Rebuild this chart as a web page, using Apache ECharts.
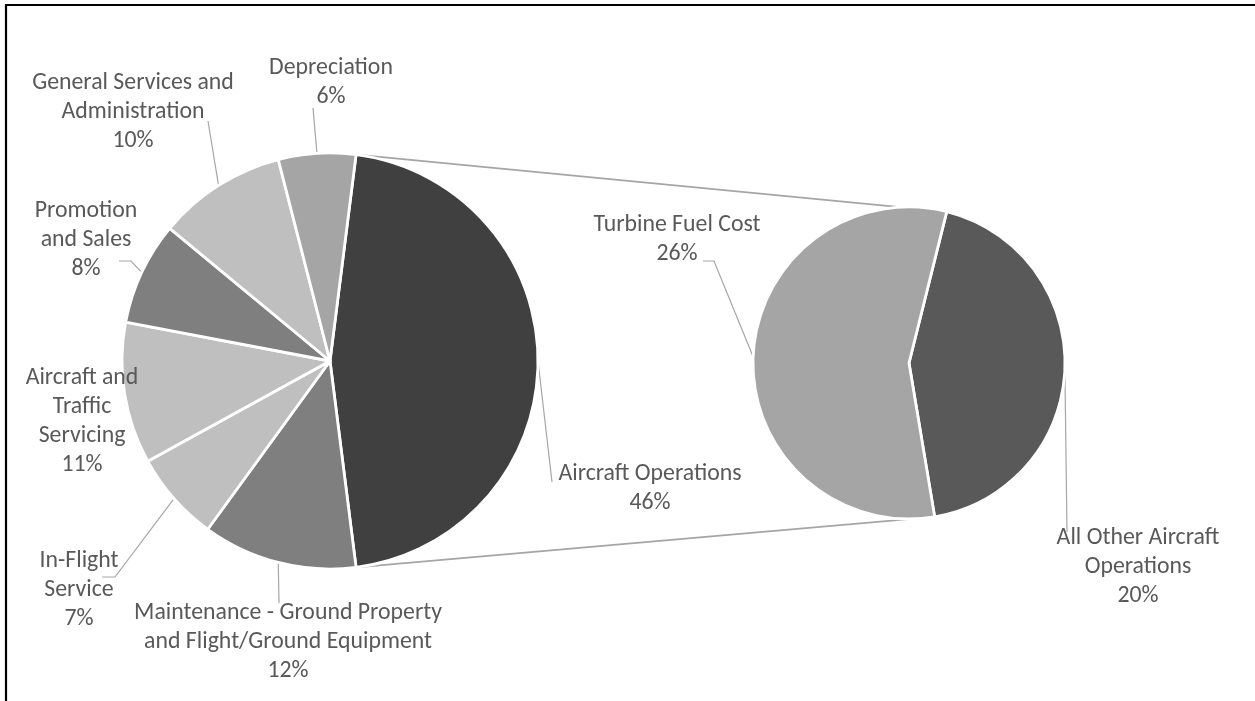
<!DOCTYPE html>
<html>
<head>
<meta charset="utf-8">
<title>Operating Expenses Breakdown</title>
<script src="https://cdn.jsdelivr.net/npm/echarts@6/dist/echarts.min.js"></script>
<style>
  html, body { margin: 0; padding: 0; background: #ffffff; }
  #chart { width: 1255px; height: 701px; }
</style>
</head>
<body>
<div id="chart"></div>
<script>
// Main pie: share of total operating expenses (%)
const mainCategories = [
  'Aircraft Operations',
  'Maintenance - Ground Property\nand Flight/Ground Equipment',
  'In-Flight\nService',
  'Aircraft and\nTraffic\nServicing',
  'Promotion\nand Sales',
  'General Services and\nAdministration',
  'Depreciation'
];
const mainValues = [46, 12, 7, 11, 8, 10, 6];
const mainColors = ['#404040', '#7f7f7f', '#bfbfbf', '#bfbfbf', '#7f7f7f', '#bfbfbf', '#a5a5a5'];

// Secondary pie: split of Aircraft Operations (% of total)
const detailCategories = ['All Other Aircraft\nOperations', 'Turbine Fuel Cost'];
const detailValues = [20, 26];
const detailColors = ['#595959', '#a5a5a5'];

// Pie geometry (pixels)
const MAIN = { cx: 330, cy: 361, r: 208 };
const DETAIL = { cx: 909, cy: 363, r: 156 };

const sum = a => a.reduce((s, v) => s + v, 0);
// first main slice is centred on 3 o'clock
const mainStart = mainValues[0] / sum(mainValues) * 180;
const detailStart = 76;

// Label placement (centre of text block) and leader-line bend/end points
const mainLabelPos = [
  { x: 650, y: 489, leader: [[552, 482]] },
  { x: 288, y: 642, leader: [[279, 603]] },
  { x: 79,  y: 590, leader: [[115, 577], [102, 577]] },
  { x: 82,  y: 422 },
  { x: 86,  y: 240, leader: [[131, 261], [119, 261]] },
  { x: 133, y: 112, leader: [[208, 121]] },
  { x: 331, y: 83,  leader: [[313, 108]] }
];
const detailLabelPos = [
  { x: 1138, y: 567, leader: [[1067, 532]] },
  { x: 677,  y: 240, leader: [[714, 261], [703, 261]] }
];

// point on a pie rim at an ECharts angle (degrees, counter-clockwise from 3 o'clock)
function rimPoint(g, deg) {
  const a = deg * Math.PI / 180;
  return [g.cx + g.r * Math.cos(a), g.cy - g.r * Math.sin(a)];
}
// mid-angle of slice i for a clockwise pie
function midAngle(values, start, i) {
  const t = sum(values);
  const before = sum(values.slice(0, i));
  return start - (before + values[i] / 2) / t * 360;
}

const textStyle = {
  color: '#595959',
  fontSize: 23.8,
  lineHeight: 29,
  fontFamily: 'Carlito, Lato, sans-serif',
  align: 'center'
};

function makeData(names, values, colors) {
  return names.map((n, i) => ({
    name: n,
    value: values[i],
    itemStyle: { color: colors[i] },
    labelLine: { show: n !== 'Aircraft and\nTraffic\nServicing' }
  }));
}

function makeLayout(posList, geom, values, start) {
  return function (params) {
    const spec = posList[params.dataIndex];
    const out = { x: spec.x, y: spec.y, align: 'center', verticalAlign: 'middle' };
    if (spec.leader) {
      const p0 = rimPoint(geom, midAngle(values, start, params.dataIndex));
      const pts = [p0].concat(spec.leader);
      if (pts.length === 2) pts.splice(1, 0, spec.leader[0]);
      out.labelLinePoints = pts;
    }
    return out;
  };
}

function pieSeries(names, values, colors, geom, start, posList) {
  return {
    type: 'pie',
    silent: true,
    radius: geom.r,
    center: [geom.cx, geom.cy],
    startAngle: start,
    clockwise: true,
    avoidLabelOverlap: false,
    itemStyle: { borderColor: '#ffffff', borderWidth: 2.8 },
    label: Object.assign({ show: true, position: 'outside', formatter: '{b}\n{c}%' }, textStyle),
    labelLine: { show: true, lineStyle: { color: '#a6a6a6', width: 1.2 } },
    labelLayout: makeLayout(posList, geom, values, start),
    emphasis: { disabled: true },
    data: makeData(names, values, colors)
  };
}

// Series lines joining the Aircraft Operations slice to the secondary pie
const mainSpan = mainValues[0] / sum(mainValues) * 360;
const detailSpan = detailValues[0] / sum(detailValues) * 360;
const topA = rimPoint(MAIN, mainStart);
const topB = rimPoint(DETAIL, detailStart);
const botA = rimPoint(MAIN, mainStart - mainSpan);
const botB = rimPoint(DETAIL, detailStart - detailSpan);

const chart = echarts.init(document.getElementById('chart'), null, { renderer: 'canvas' });
chart.setOption({
  animation: false,
  backgroundColor: '#ffffff',
  graphic: [
    {
      type: 'rect', silent: true,
      shape: { x: 6, y: 5, width: 1400, height: 900 },
      style: { fill: 'none', stroke: '#000000', lineWidth: 2.2 }
    },
    {
      type: 'line', silent: true,
      shape: { x1: topA[0], y1: topA[1], x2: topB[0], y2: topB[1] },
      style: { stroke: '#a5a5a5', lineWidth: 1.6 }
    },
    {
      type: 'line', silent: true,
      shape: { x1: botA[0], y1: botA[1], x2: botB[0], y2: botB[1] },
      style: { stroke: '#a5a5a5', lineWidth: 1.6 }
    }
  ],
  series: [
    pieSeries(mainCategories, mainValues, mainColors, MAIN, mainStart, mainLabelPos),
    pieSeries(detailCategories, detailValues, detailColors, DETAIL, detailStart, detailLabelPos)
  ]
});
</script>
</body>
</html>
